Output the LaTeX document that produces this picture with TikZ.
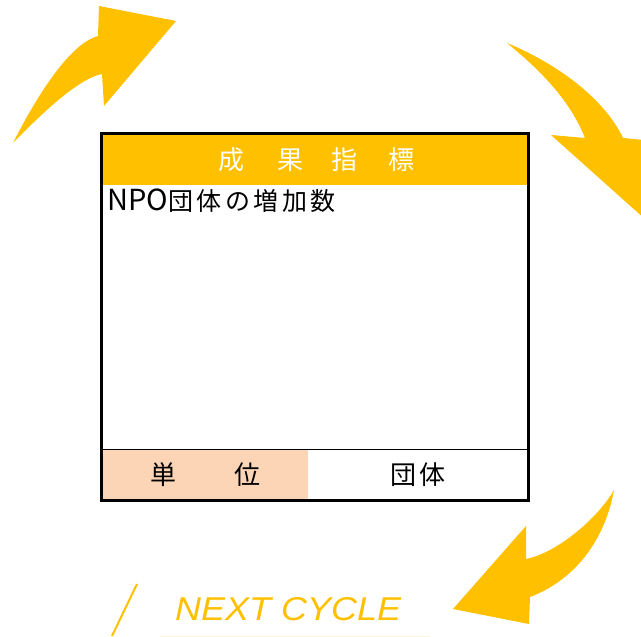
\documentclass[tikz,border=0pt]{standalone}
\usepackage{fontspec}
\setmainfont{Liberation Sans}
\newfontfamily\jp[LetterSpace=14]{Noto Sans CJK JP}
\newfontfamily\jplat{Noto Sans CJK JP}
\definecolor{gold}{HTML}{FFC000}
\definecolor{peach}{HTML}{FBD5B5}
\begin{document}
\begin{tikzpicture}[x=1pt,y=-1pt,
  arrowshape/.style={fill=gold,draw=none},
  hdr/.style={text=white,font=\jp\fontsize{26}{26}\selectfont,inner sep=0pt},
  cell/.style={text=black,font=\jp\fontsize{26}{26}\selectfont,inner sep=0pt}]
\useasboundingbox (0,0) rectangle (641,637);
\clip (0,0) rectangle (641,637);
% arrows
\fill[arrowshape] (13,143) .. controls (45,80) and (75,42) .. (98,36) -- (99,6) -- (176,21) -- (104,106) -- (102,74) .. controls (80,78) and (45,110) .. (13,143) -- cycle;
\fill[arrowshape] (507,43) .. controls (560,65) and (605,100) .. (623,138) -- (665,142) -- (655,228) -- (551,135) -- (585,138) .. controls (570,100) and (540,70) .. (507,43) -- cycle;
\fill[arrowshape] (614,490) .. controls (600,515) and (560,552) .. (526,559) -- (526,526) -- (453,609) -- (529,624) -- (530,597) .. controls (575,580) and (605,540) .. (614,490) -- cycle;
% box
\fill[gold] (101.5,133.5) rectangle (528.5,185);
\fill[peach] (101.5,449) rectangle (308,500);
\draw[line width=0.8pt] (101.5,449) -- (528.5,449);
\draw[line width=3pt] (101.5,133.5) rectangle (528.5,500);
% header
\node[hdr] (h1) at (231,160) {成};
\node[hdr] (h2) at (290,160) {果};
\node[hdr] (h3) at (344,160) {指};
\node[hdr] (h4) at (401,160) {標};
\node[cell,anchor=base west,font=\jp\fontsize{25}{25}\selectfont] (ind) at (107,210) {{\jplat\fontsize{29}{29}\selectfont NPO}団体の増加数};
\node[cell] (u1) at (163,475) {単};
\node[cell] (u2) at (247,475) {位};
\node[cell] (val) at (418,475) {団体};
% next cycle
\draw[gold,line width=2pt] (137,584) -- (112,636);
\draw[gold!15,line width=1pt] (160,636) -- (430,636);
\node[text=gold,anchor=base west,inner sep=0pt,xscale=1.09,font=\fontsize{33}{33}\selectfont\itshape] (nc) at (175,620) {NEXT CYCLE};
\end{tikzpicture}
\end{document}
